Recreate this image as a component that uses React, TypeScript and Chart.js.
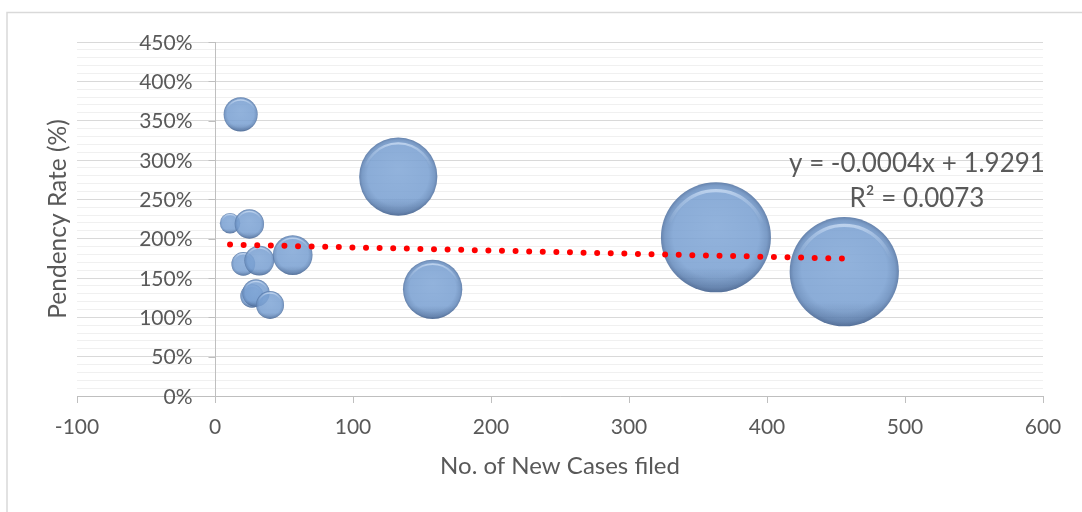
import { useEffect, useRef } from 'react';
import { Chart, registerables } from 'chart.js';

Chart.register(...registerables);

// Bubble series: new cases filed (x), pendency rate as a fraction (y), pending cases (bubble size)
const newCases = [10.9, 24.9, 18.6, 20.5, 32.1, 56.3, 26.8, 29.7, 39.9, 132.8, 157.7, 363, 456];
const pendencyRate = [2.196, 2.187, 3.58, 1.679, 1.721, 1.792, 1.271, 1.309, 1.157, 2.788, 1.356, 2.017, 1.58];
const pendingCases = [25, 52, 70, 34, 54, 95, 33, 45, 47, 368, 212, 728, 718];

// Linear trendline
const trendSlope = -0.0004;
const trendIntercept = 1.9291;
const trendLabel = ['y = -0.0004x + 1.9291', 'R² = 0.0073'];

// Axes
const xTicks = [-100, 0, 100, 200, 300, 400, 500, 600];
const yMajorTicks = [0, 0.5, 1, 1.5, 2, 2.5, 3, 3.5, 4, 4.5];
const xTitle = 'No. of New Cases filed';
const yTitle = 'Pendency Rate (%)';

const FONT = 'Lato, "Open Sans", sans-serif';
const TEXT = '#595959';
const AXIS = '#bfbfbf';
const MAX_R = 55;

function drawBubble(ctx: CanvasRenderingContext2D, x: number, y: number, r: number) {
  ctx.save();
  ctx.beginPath();
  ctx.arc(x, y, r, 0, Math.PI * 2);
  ctx.closePath();
  const base = ctx.createRadialGradient(x, y - r * 0.2, 0, x, y, r);
  base.addColorStop(0, 'rgba(128,166,214,0.86)');
  base.addColorStop(0.78, 'rgba(120,159,209,0.86)');
  base.addColorStop(0.93, 'rgba(104,141,190,0.88)');
  base.addColorStop(1, 'rgba(86,118,164,0.9)');
  ctx.fillStyle = base;
  ctx.fill();
  ctx.clip();

  // bevel highlight just inside the upper rim
  const hl = ctx.createLinearGradient(0, y - r, 0, y + r * 0.1);
  hl.addColorStop(0, 'rgba(232,242,255,0.8)');
  hl.addColorStop(0.3, 'rgba(205,224,248,0.4)');
  hl.addColorStop(0.7, 'rgba(205,224,248,0)');
  ctx.beginPath();
  ctx.arc(x, y + r * 0.04, r * 0.89, 0, Math.PI * 2);
  ctx.strokeStyle = hl;
  ctx.lineWidth = Math.max(1.5, r * 0.06);
  ctx.stroke();

  // darker lower rim
  const sh = ctx.createLinearGradient(0, y, 0, y + r);
  sh.addColorStop(0.55, 'rgba(40,62,100,0)');
  sh.addColorStop(1, 'rgba(40,62,100,0.28)');
  ctx.fillStyle = sh;
  ctx.fillRect(x - r, y, 2 * r, r);
  ctx.restore();
}

const chartDecor = {
  id: 'chartDecor',
  beforeDraw(chart: any) {
    const { ctx, width, height } = chart;
    ctx.save();
    ctx.fillStyle = '#ffffff';
    ctx.fillRect(0, 0, width, height);
    ctx.strokeStyle = '#d9d9d9';
    ctx.lineWidth = 1.5;
    ctx.beginPath();
    ctx.moveTo(7, height);
    ctx.lineTo(7, 12.5);
    ctx.lineTo(width, 12.5);
    ctx.stroke();
    ctx.restore();
  },
  beforeDatasetsDraw(chart: any) {
    const { ctx, chartArea } = chart;
    const xs = chart.scales.x;
    const ys = chart.scales.y;
    const x0 = Math.round(xs.getPixelForValue(0)) + 0.5;
    ctx.save();
    ctx.strokeStyle = AXIS;
    ctx.lineWidth = 1;
    ctx.beginPath();
    ctx.moveTo(x0, chartArea.top);
    ctx.lineTo(x0, chartArea.bottom);
    for (const v of yMajorTicks) {
      const py = Math.round(ys.getPixelForValue(v)) + 0.5;
      ctx.moveTo(x0 - 7, py);
      ctx.lineTo(x0, py);
    }
    ctx.stroke();
    ctx.fillStyle = TEXT;
    ctx.font = `21px ${FONT}`;
    ctx.textAlign = 'right';
    ctx.textBaseline = 'middle';
    for (const v of yMajorTicks) {
      ctx.fillText(`${Math.round(v * 100)}%`, x0 - 23, ys.getPixelForValue(v) + 1);
    }
    ctx.restore();
  },
  afterDatasetDraw(chart: any, args: any) {
    if (args.meta.type !== 'bubble') return;
    const { ctx } = chart;
    for (const el of args.meta.data) {
      drawBubble(ctx, el.x, el.y, el.options.radius);
    }
  },
  afterDraw(chart: any) {
    const { ctx, chartArea } = chart;
    ctx.save();
    ctx.fillStyle = TEXT;
    ctx.font = `26px ${FONT}`;
    ctx.textAlign = 'center';
    ctx.textBaseline = 'middle';
    const cx = chartArea.right - 126;
    ctx.fillText(trendLabel[0], cx, chartArea.top + 122);
    ctx.fillText(trendLabel[1], cx, chartArea.top + 157);
    ctx.restore();
  },
};

export default function App() {
  const canvasRef = useRef<HTMLCanvasElement | null>(null);

  useEffect(() => {
    document.body.style.margin = '0';
    const canvas = canvasRef.current;
    if (!canvas) return;

    const maxSize = Math.max(...pendingCases);
    const bubbles = newCases.map((x, i) => ({
      x,
      y: pendencyRate[i],
      r: MAX_R * Math.sqrt(pendingCases[i] / maxSize),
    }));
    const xMin = Math.min(...newCases);
    const xMax = Math.max(...newCases);
    const trend = [
      { x: xMin, y: trendIntercept + trendSlope * xMin },
      { x: xMax, y: trendIntercept + trendSlope * xMax },
    ];

    const chart = new Chart(canvas, {
      type: 'bubble',
      data: {
        datasets: [
          {
            type: 'line',
            label: 'Linear trend',
            data: trend,
            borderColor: '#ff0000',
            borderWidth: 6,
            borderDash: [0, 13.6],
            borderCapStyle: 'round',
            pointRadius: 0,
            fill: false,
          } as any,
          {
            type: 'bubble',
            label: 'Courts',
            data: bubbles,
            backgroundColor: 'rgba(0,0,0,0)',
            borderWidth: 0,
          } as any,
        ],
      },
      options: {
        responsive: false,
        devicePixelRatio: 1,
        animation: false,
        layout: { autoPadding: false, padding: { left: 0, right: 39, top: 42, bottom: 0 } },
        plugins: {
          legend: { display: false },
          tooltip: { enabled: false },
        },
        scales: {
          x: {
            type: 'linear',
            min: -100,
            max: 600,
            afterBuildTicks: (scale: any) => {
              scale.ticks = xTicks.map((value) => ({ value }));
            },
            afterFit: (scale: any) => {
              scale.height = 116;
              scale.paddingLeft = 0;
              scale.paddingRight = 0;
            },
            ticks: {
              color: TEXT,
              font: { family: FONT, size: 21 },
              padding: 12,
              callback: (v: any) => String(v),
            },
            grid: {
              drawOnChartArea: false,
              drawTicks: true,
              tickLength: 7,
              tickColor: AXIS,
            },
            border: { color: AXIS, width: 1 },
            title: {
              display: true,
              text: xTitle,
              color: TEXT,
              font: { family: FONT, size: 24 },
              padding: { top: 0, bottom: 31.6 },
            },
          },
          y: {
            type: 'linear',
            min: 0,
            max: 4.5,
            ticks: { display: false, stepSize: 0.1, autoSkip: false },
            afterFit: (scale: any) => {
              scale.width = 77;
              scale.paddingTop = 0;
              scale.paddingBottom = 0;
            },
            grid: {
              drawTicks: false,
              color: (c: any) =>
                Math.round(c.tick.value * 10) % 5 === 0 ? '#d9d9d9' : '#f0f0f0',
              lineWidth: 1,
            },
            border: { display: false },
            title: {
              display: true,
              text: yTitle,
              color: TEXT,
              font: { family: FONT, size: 24.5 },
              padding: { top: 43.3, bottom: 0 },
            },
          },
        },
      },
      plugins: [chartDecor],
    });

    return () => chart.destroy();
  }, []);

  return <canvas ref={canvasRef} width={1082} height={512} style={{ display: 'block' }} />;
}
